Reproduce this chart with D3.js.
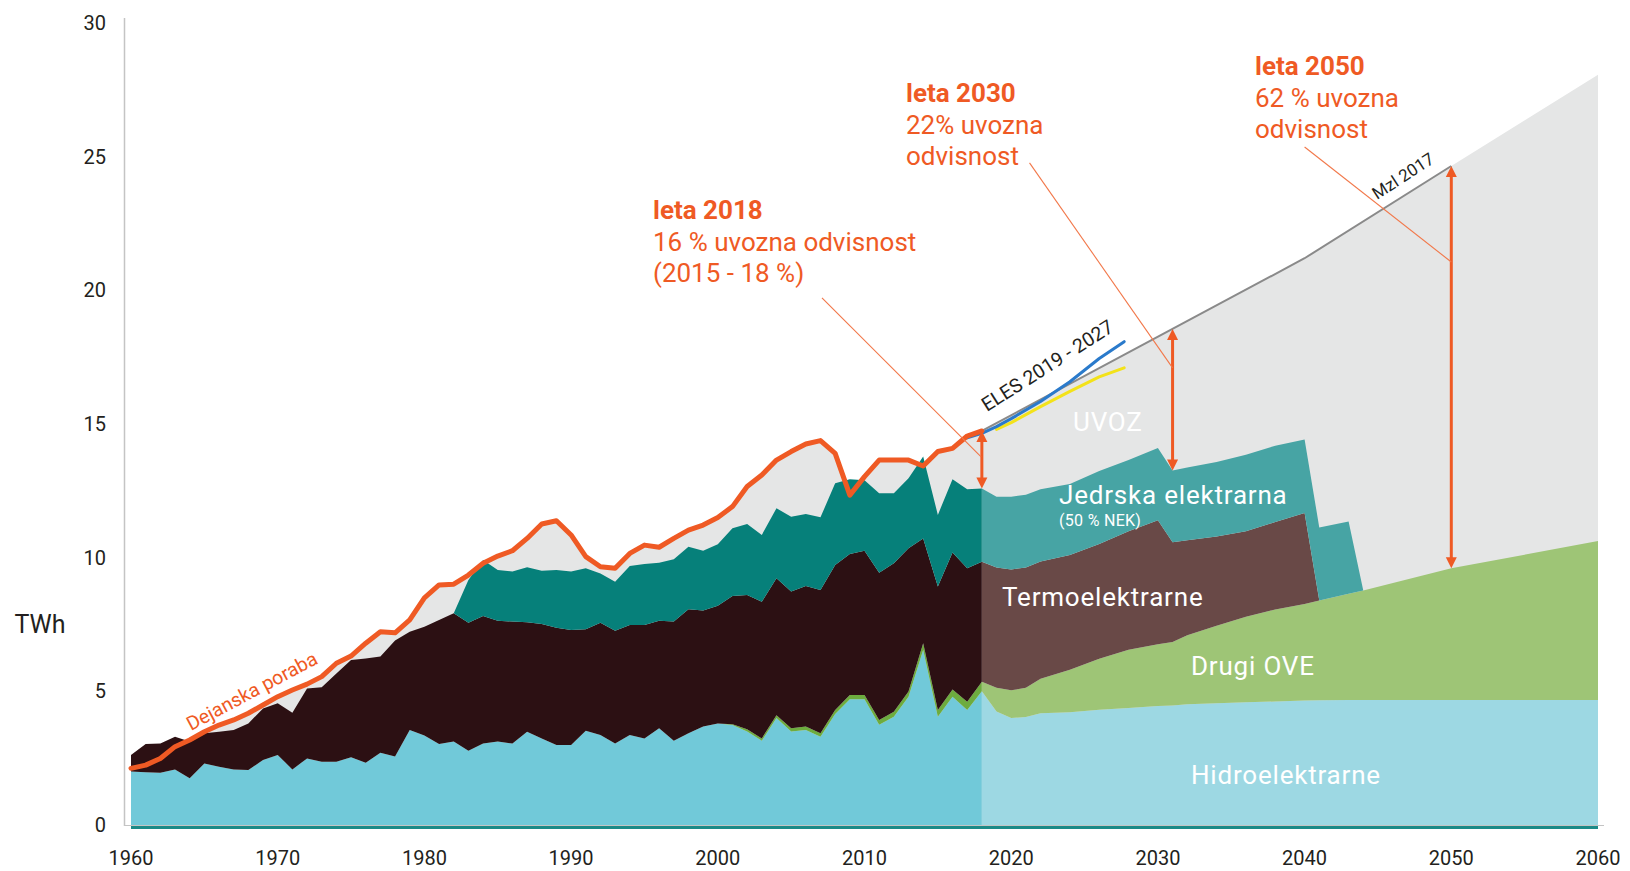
<!DOCTYPE html>
<html><head><meta charset="utf-8">
<script src="https://cdn.jsdelivr.net/npm/d3@7/dist/d3.min.js"></script>
<style>
html,body{margin:0;padding:0;background:#fff;}
svg{display:block;font-family:Roboto,"Open Sans",sans-serif;}
</style></head><body>
<svg id="chart" width="1630" height="871"></svg>
<script>
// ---------- DATA ----------
const histYears = d3.range(1960, 2019);
const histHydro = [2.0,1.97,1.95,2.08,1.75,2.3,2.18,2.08,2.06,2.43,
  2.62,2.08,2.49,2.37,2.37,2.53,2.33,2.7,2.56,3.55,
  3.35,3.03,3.12,2.78,3.05,3.12,3.05,3.49,3.24,2.99,
  2.99,3.53,3.37,3.05,3.37,3.24,3.62,3.15,3.43,3.68,
  3.8,3.74,3.5,3.15,4.0,3.5,3.55,3.3,4.15,4.7,
  4.7,3.75,4.05,4.8,6.55,4.05,4.8,4.3,5.0];
const histOther = [0,0,0,0,0,0,0,0,0,0,
  0,0,0,0,0,0,0,0,0,0,
  0,0,0,0,0,0,0,0,0,0,
  0,0,0,0,0,0,0,0,0,0,
  0,0.03,0.08,0.09,0.11,0.12,0.13,0.13,0.15,0.16,
  0.16,0.18,0.19,0.19,0.25,0.25,0.27,0.31,0.36];
const histThermal = [0.62,1.06,1.1,1.22,1.37,1.13,1.31,1.47,1.74,1.93,
  1.93,2.12,2.62,2.78,3.3,3.64,3.9,3.6,4.34,3.68,
  4.07,4.64,4.8,4.79,4.77,4.52,4.56,4.09,4.28,4.39,
  4.3,3.79,4.2,4.22,4.11,4.24,4.02,4.46,4.64,4.34,
  4.4,4.8,5.02,5.11,5.12,5.11,5.26,5.36,5.43,5.28,
  5.4,5.51,5.55,5.36,3.92,4.62,5.12,4.99,4.49];
const histNuclear = [0,0,0,0,0,0,0,0,0,0,
  0,0,0,0,0,0,0,0,0,0,
  0,0,0,1.59,2.09,1.9,1.87,2.06,1.99,2.16,
  2.19,2.28,1.84,1.83,2.21,2.28,2.17,2.33,2.34,2.24,
  2.3,2.53,2.66,2.5,2.62,2.8,2.69,2.72,3.05,2.79,
  2.64,2.97,2.62,2.62,3.06,2.68,2.74,2.96,2.74];
const histConsumption = [2.12,2.24,2.49,2.93,3.18,3.49,3.74,3.93,4.18,4.49,
  4.8,5.05,5.27,5.55,6.05,6.32,6.8,7.23,7.19,7.67,
  8.5,8.98,9.01,9.35,9.79,10.06,10.26,10.72,11.26,11.38,
  10.85,10.04,9.66,9.6,10.16,10.47,10.39,10.72,11.03,11.22,
  11.5,11.91,12.66,13.09,13.65,13.97,14.25,14.38,13.9,12.34,
  13.03,13.65,13.65,13.65,13.43,13.97,14.09,14.55,14.74];

const projYears   = [2018,2019,2020,2021,2022,2024,2026,2028,2030,2031,2032,2034,2036,2038,2040,2041,2043,2044,2050,2060];
const projHydro   = [5.0,4.25,4.0,4.04,4.18,4.22,4.31,4.38,4.45,4.47,4.52,4.55,4.59,4.62,4.66,4.67,4.68,4.68,4.68,4.68];
const projOther   = [0.36,0.88,1.04,1.09,1.29,1.59,1.91,2.18,2.31,2.38,2.58,2.9,3.2,3.44,3.61,3.73,3.97,4.09,4.92,5.94];
const projThermal = [4.49,4.5,4.52,4.5,4.39,4.29,4.29,4.43,4.64,3.73,3.55,3.34,3.2,3.27,3.4,0,0,0,0,0];
const projNuclear = [2.74,2.65,2.72,2.72,2.7,2.66,2.73,2.66,2.7,2.68,2.72,2.79,2.86,2.86,2.75,2.73,2.7,0,0,0];

const forecastYears  = [2018, 2040, 2050, 2060];
const forecastDemand = [14.74, 21.2, 24.65, 28.06];
const mzlEndYear = 2050;

const elesHighYears = [2017,2018,2019,2020,2022,2024,2026,2027.7];
const elesHigh      = [14.48,14.65,14.9,15.2,15.84,16.58,17.45,18.08];
const elesLowYears  = [2019,2020,2022,2024,2026,2027.7];
const elesLow       = [14.8,15.05,15.65,16.22,16.76,17.1];

const yTicks = [0,5,10,15,20,25,30];
const xTicks = [1960,1970,1980,1990,2000,2010,2020,2030,2040,2050,2060];

const arrowYears = [2018, 2031, 2050];

// ---------- SETUP ----------
const svg = d3.select("#chart");
const x = d3.scaleLinear().domain([1960, 2060]).range([131, 1598]);
const y = d3.scaleLinear().domain([0, 30]).range([825, 23]);
const keys = ["hydro","other","thermal","nuclear"];
const histColors = {hydro:"#71c9d9", other:"#6dac3e", thermal:"#2c1013", nuclear:"#06807a"};
const projColors = {hydro:"#9dd8e3", other:"#9ec576", thermal:"#694947", nuclear:"#47a4a4"};
const ORANGE = "#ef5a24";

const histRows = histYears.map((yr,i)=>({year:yr, hydro:histHydro[i], other:histOther[i], thermal:histThermal[i], nuclear:histNuclear[i]}));
const projRows = projYears.map((yr,i)=>({year:yr, hydro:projHydro[i], other:projOther[i], thermal:projThermal[i], nuclear:projNuclear[i]}));
const stack = d3.stack().keys(keys);
const histStack = stack(histRows);
const projStack = stack(projRows);

const area = d3.area().x(d=>x(d.data.year)).y0(d=>y(d[0])).y1(d=>y(d[1]));

// demand (import) gray area
const demandPts = histYears.map((yr,i)=>({year:yr, v:histConsumption[i]}))
  .concat(forecastYears.slice(1).map((yr,i)=>({year:yr, v:forecastDemand[i+1]})));
svg.append("path").datum(demandPts)
  .attr("d", d3.area().x(d=>x(d.year)).y0(y(0)).y1(d=>y(d.v)))
  .attr("fill","#e5e6e6");

svg.append("g").selectAll("path").data(histStack).join("path")
  .attr("d", area).attr("fill", d=>histColors[d.key]);
svg.append("g").selectAll("path").data(projStack).join("path")
  .attr("d", area).attr("fill", d=>projColors[d.key]);

// axes
svg.append("line").attr("x1",124.5).attr("x2",124.5).attr("y1",18).attr("y2",826)
  .attr("stroke","#c4c4c4").attr("stroke-width",1.5);
svg.append("line").attr("x1",124).attr("x2",1604).attr("y1",825.5).attr("y2",825.5)
  .attr("stroke","#c4c4c4").attr("stroke-width",1);
svg.append("line").attr("x1",x(1960)).attr("x2",x(2060)).attr("y1",827.5).attr("y2",827.5)
  .attr("stroke","#1b8a87").attr("stroke-width",3);

svg.append("g").selectAll("text").data(yTicks).join("text")
  .attr("x",106).attr("y",d=>y(d)).attr("dy","0.35em").attr("text-anchor","end")
  .attr("font-size",20).attr("fill","#231f20").text(d=>d);
svg.append("g").selectAll("text").data(xTicks).join("text")
  .attr("x",d=>x(d)).attr("y",865).attr("text-anchor","middle")
  .attr("font-size",20).attr("fill","#231f20").text(d=>d);
svg.append("text").attr("x",40).attr("y",633).attr("text-anchor","middle")
  .attr("font-size",25).attr("fill","#231f20").text("TWh");

// Mzl 2017 line
const line = d3.line().x(d=>x(d.year)).y(d=>y(d.v));
const mzlPts = forecastYears.map((yr,i)=>({year:yr, v:forecastDemand[i]})).filter(d=>d.year<=mzlEndYear);
svg.append("path").datum(mzlPts).attr("d",line).attr("fill","none")
  .attr("stroke","#8a8a8a").attr("stroke-width",2);

// ELES lines
svg.append("path").datum(elesLowYears.map((yr,i)=>({year:yr,v:elesLow[i]}))).attr("d",line)
  .attr("fill","none").attr("stroke","#f3e21a").attr("stroke-width",3).attr("stroke-linejoin","round").attr("stroke-linecap","round");
svg.append("path").datum(elesHighYears.map((yr,i)=>({year:yr,v:elesHigh[i]}))).attr("d",line)
  .attr("fill","none").attr("stroke","#2a7acb").attr("stroke-width",3).attr("stroke-linejoin","round").attr("stroke-linecap","round");

// actual consumption
svg.append("path").datum(histYears.map((yr,i)=>({year:yr,v:histConsumption[i]}))).attr("d",line)
  .attr("fill","none").attr("stroke",ORANGE).attr("stroke-width",5).attr("stroke-linejoin","round").attr("stroke-linecap","round");

// helpers for arrow end values
function demandAt(yr){
  if (yr <= 2018) return histConsumption[histYears.indexOf(yr)];
  const i = d3.bisectLeft(forecastYears, yr);
  const t = (yr - forecastYears[i-1])/(forecastYears[i]-forecastYears[i-1]);
  return forecastDemand[i-1] + t*(forecastDemand[i]-forecastDemand[i-1]);
}
function prodTopAt(yr){
  const idx = projYears.indexOf(yr);
  return projHydro[idx]+projOther[idx]+projThermal[idx]+projNuclear[idx];
}
function drawArrow(yr, v0, v1){
  const px = x(yr), ya = y(v1), yb = y(v0);
  const hl = 11, hw = 5.5;
  svg.append("line").attr("x1",px).attr("x2",px).attr("y1",ya+hl-2).attr("y2",yb-hl+2)
    .attr("stroke",ORANGE).attr("stroke-width",3);
  svg.append("path").attr("d",`M${px},${ya} L${px+hw},${ya+hl} L${px-hw},${ya+hl} Z`).attr("fill",ORANGE);
  svg.append("path").attr("d",`M${px},${yb} L${px+hw},${yb-hl} L${px-hw},${yb-hl} Z`).attr("fill",ORANGE);
}
arrowYears.forEach(yr=>drawArrow(yr, prodTopAt(yr), demandAt(yr)));

// leader lines
const leaders = [
  {from:[2007.1,19.72], to:[2017.95,13.77]},
  {from:[2021.25,24.77], to:[2031,17.1]},
  {from:[2040.0,25.36], to:[2050,21.06]}
];
svg.append("g").selectAll("line").data(leaders).join("line")
  .attr("x1",d=>x(d.from[0])).attr("y1",d=>y(d.from[1]))
  .attr("x2",d=>x(d.to[0])).attr("y2",d=>y(d.to[1]))
  .attr("stroke","#f2784a").attr("stroke-width",1.1);

// annotation texts
const notes = [
  {x:653, y:219, lines:["leta 2018","16 % uvozna odvisnost","(2015 - 18 %)"]},
  {x:906, y:102, lines:["leta 2030","22% uvozna","odvisnost"]},
  {x:1255, y:75, lines:["leta 2050","62 % uvozna","odvisnost"]}
];
notes.forEach(n=>{
  n.lines.forEach((t,i)=>{
    svg.append("text").attr("x",n.x).attr("y",n.y+i*31.5)
      .attr("font-size",26).attr("font-weight", i===0?700:400)
      .attr("fill",ORANGE).text(t);
  });
});

// area labels
const labels = [
  {t:"UVOZ", x:1073, y:431, s:26},
  {t:"Jedrska elektrarna", x:1059, y:504, s:26},
  {t:"(50 % NEK)", x:1059, y:526, s:16},
  {t:"Termoelektrarne", x:1002, y:606, s:26},
  {t:"Drugi OVE", x:1191, y:675, s:26},
  {t:"Hidroelektrarne", x:1191, y:784, s:26}
];
svg.append("g").selectAll("text").data(labels).join("text")
  .attr("x",d=>d.x).attr("y",d=>d.y).attr("font-size",d=>d.s)
  .attr("letter-spacing",d=>d.s>20?0.8:0.3)
  .attr("fill","#ffffff").text(d=>d.t);

// rotated labels
const rot = [
  {t:"Dejanska poraba", x:191, y:731, a:-28, s:19.5, c:ORANGE},
  {t:"ELES 2019 - 2027", x:987, y:412, a:-32.5, s:19.5, c:"#231f20"},
  {t:"Mzl 2017", x:1377, y:200, a:-33, s:17, c:"#231f20"}
];
svg.append("g").selectAll("text").data(rot).join("text")
  .attr("transform",d=>`translate(${d.x},${d.y}) rotate(${d.a})`)
  .attr("font-size",d=>d.s).attr("fill",d=>d.c).text(d=>d.t);
</script>
</body></html>
